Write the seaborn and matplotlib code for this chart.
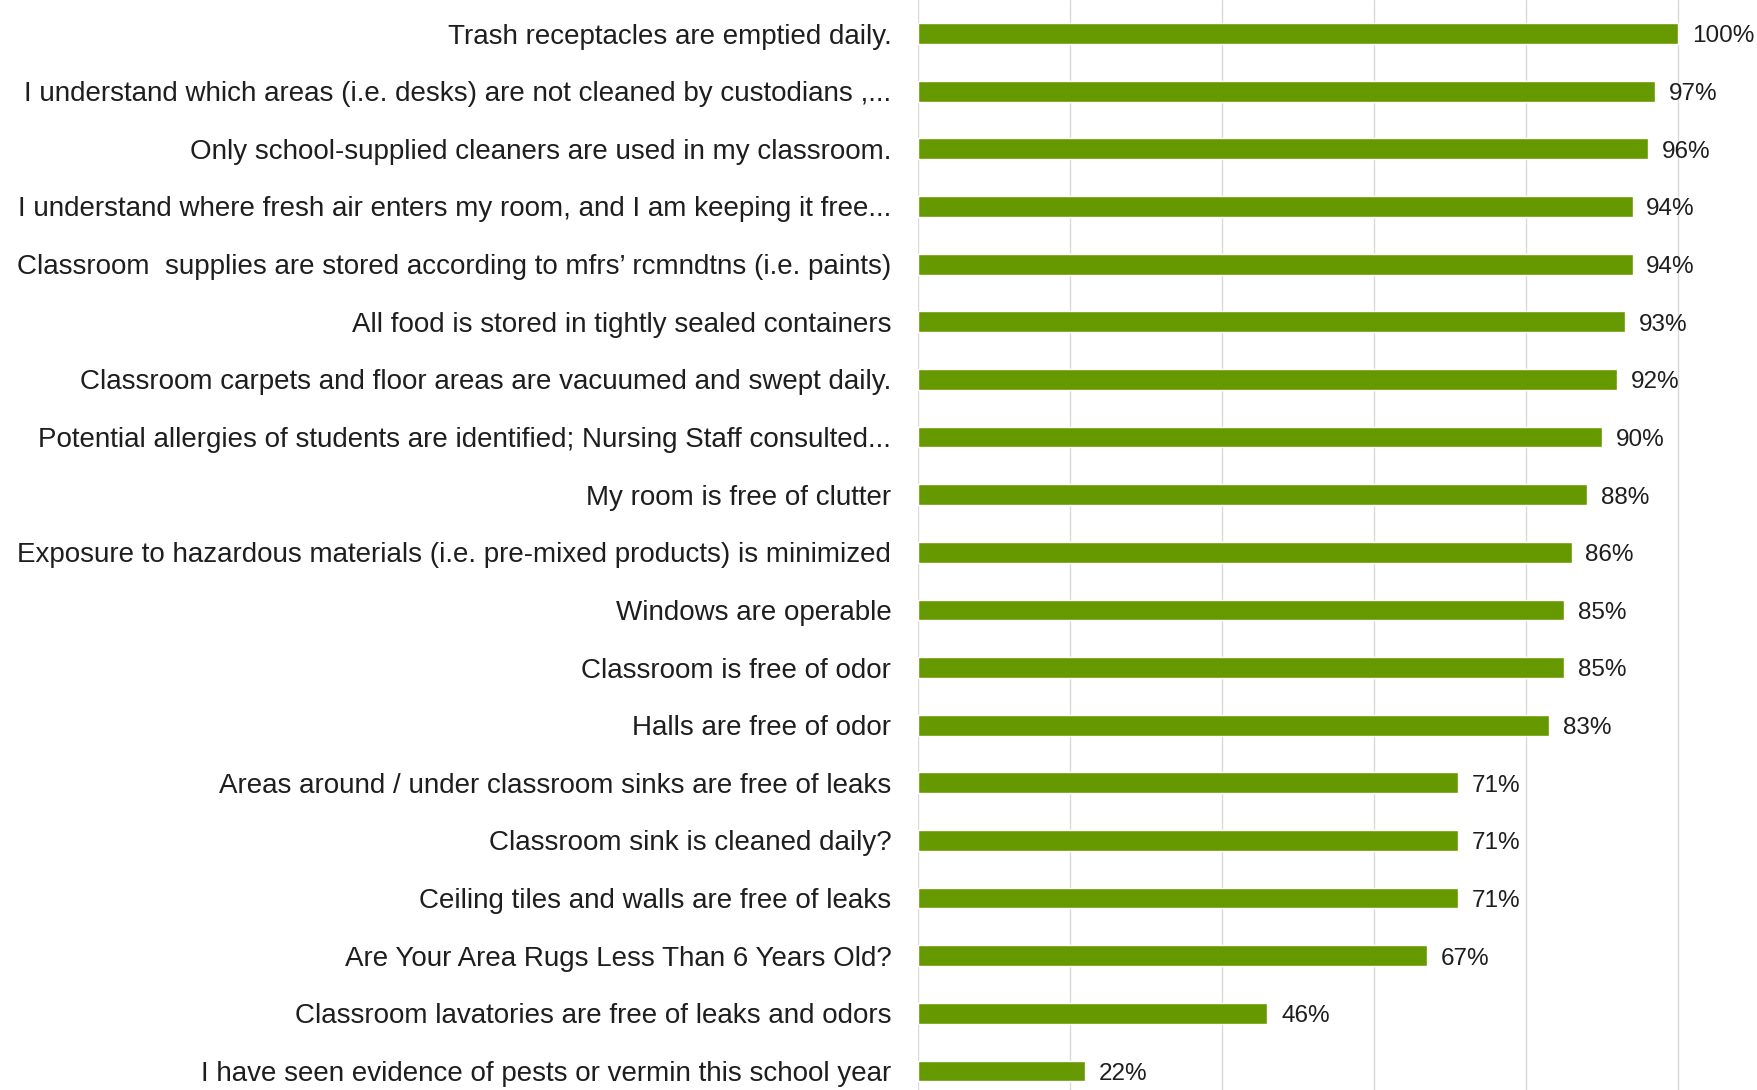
import matplotlib
matplotlib.use("Agg")
import matplotlib.pyplot as plt
import pandas as pd
import seaborn as sns

# =========================
# Datos
# =========================
preguntas = [
    "Trash receptacles are emptied daily.",
    "I understand which areas (i.e. desks) are not cleaned by custodians ,...",
    "Only school-supplied cleaners are used in my classroom.",
    "I understand where fresh air enters my room, and I am keeping it free...",
    "Classroom  supplies are stored according to mfrs\u2019 rcmndtns (i.e. paints)",
    "All food is stored in tightly sealed containers",
    "Classroom carpets and floor areas are vacuumed and swept daily.",
    "Potential allergies of students are identified; Nursing Staff consulted...",
    "My room is free of clutter",
    "Exposure to hazardous materials (i.e. pre-mixed products) is minimized",
    "Windows are operable",
    "Classroom is free of odor",
    "Halls are free of odor",
    "Areas around / under classroom sinks are free of leaks",
    "Classroom sink is cleaned daily?",
    "Ceiling tiles and walls are free of leaks",
    "Are Your Area Rugs Less Than 6 Years Old?",
    "Classroom lavatories are free of leaks and odors",
    "I have seen evidence of pests or vermin this school year",
]
porcentajes = [100, 97, 96, 94, 94, 93, 92, 90, 88, 86, 85, 85, 83, 71, 71, 71, 67, 46, 22]
grid_ticks = [0, 20, 40, 60, 80, 100]

df = pd.DataFrame({"pregunta": preguntas, "pct": porcentajes})

# =========================
# Estilo
# =========================
sns.set_style("white")
plt.rcParams["font.family"] = ["Liberation Sans", "DejaVu Sans"]

verde = "#669900"
texto = "#1e1e1e"

fig = plt.figure(figsize=(17.58, 10.90), dpi=100)
ax = fig.add_axes([0.522, 0.0, 0.478, 1.0])

sns.barplot(data=df, x="pct", y="pregunta", color=verde, width=0.36,
            saturation=1, ax=ax)

ax.set_xlim(0, 110.5)
ax.set_ylim(18.33, -0.583)
ax.set_xticks(grid_ticks)
ax.set_xticklabels([])
ax.tick_params(axis="x", length=0)
ax.tick_params(axis="y", length=0, pad=19, labelsize=20, labelcolor=texto)
ax.xaxis.grid(True, color="#d9d9d9", linewidth=1)
ax.set_axisbelow(True)
ax.set_xlabel("")
ax.set_ylabel("")
for s in ax.spines.values():
    s.set_visible(False)

for i, v in enumerate(porcentajes):
    ax.text(v + 1.8, i + 0.05, f"{v}%", va="center", ha="left",
            fontsize=17.5, color=texto)

fig.savefig("out.png", dpi=100)
